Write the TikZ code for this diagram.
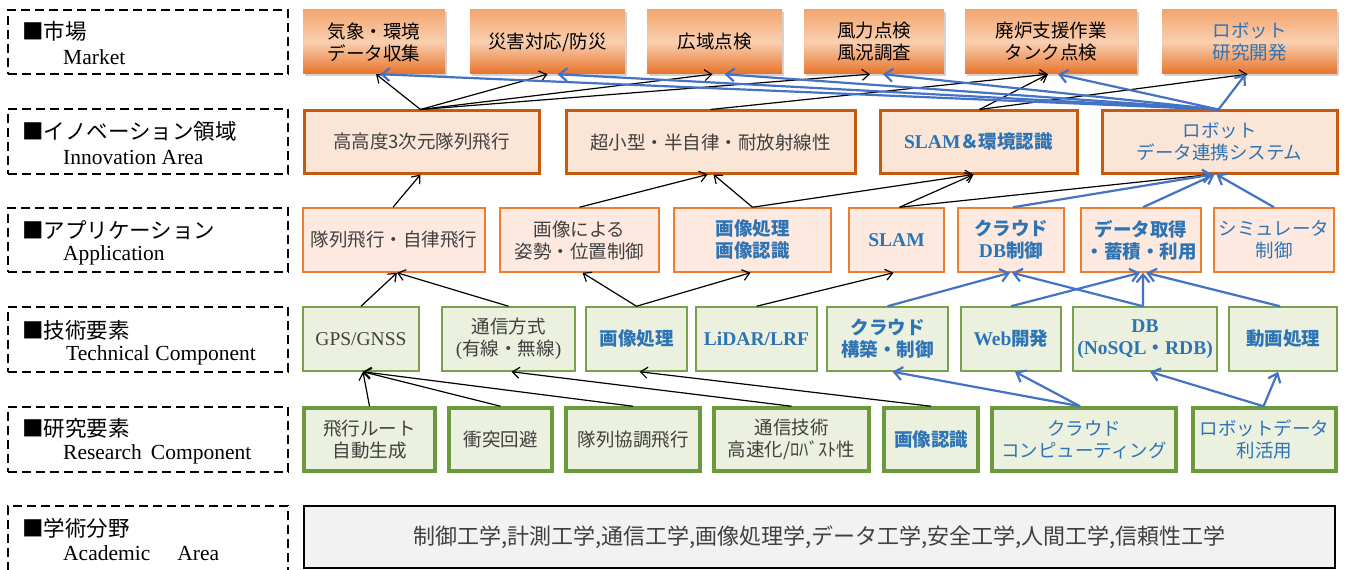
\documentclass[tikz,border=0pt]{standalone}
\usepackage{fontspec}
\setmainfont{Liberation Serif}
\newfontfamily\J{Noto Sans CJK JP}
\usetikzlibrary{arrows.meta,shadows}
\definecolor{mktTop}{HTML}{F4A66F}
\definecolor{mktMid}{HTML}{F9CFB0}
\definecolor{mktBot}{HTML}{E8732A}
\definecolor{innFill}{HTML}{FBE5D6}
\definecolor{innLine}{HTML}{C55A11}
\definecolor{appFill}{HTML}{FDE9DF}
\definecolor{appLine}{HTML}{ED7D31}
\definecolor{grnFill}{HTML}{EBF1DE}
\definecolor{tecLine}{HTML}{77A14B}
\definecolor{resLine}{HTML}{6B9A3E}
\definecolor{acaFill}{HTML}{F2F2F2}
\definecolor{txtBlue}{HTML}{2E74B5}
\definecolor{txtGray}{HTML}{404040}
\definecolor{lnBlue}{HTML}{4472C4}
\newcommand\EN{\rmfamily\fontsize{19.5bp}{22bp}\selectfont}
\newcommand\bx[7]{\node[#1, minimum width={(#4-#3)*1.00375pt}, minimum height={(#6-#5)*1.00375pt}] (#2) at ({(#3+#4)/2},{(#5+#6)/2}) {#7};}
\begin{document}
\begin{tikzpicture}[x=1bp,y=-1bp,
  base/.style={inner sep=0pt, align=center, font=\J\fontsize{18.5bp}{22bp}\selectfont},
  mkt/.style={base, top color=mktTop, bottom color=mktBot, middle color=mktMid, draw=none,
     drop shadow={shadow xshift=2bp, shadow yshift=-2bp, opacity=0.35}, text=black},
  inn/.style={base, fill=innFill, draw=innLine, line width=3bp, text=txtGray},
  app/.style={base, fill=appFill, draw=appLine, line width=1.5bp, text=txtGray},
  tec/.style={base, fill=grnFill, draw=tecLine, line width=1.5bp, text=txtGray},
  res/.style={base, fill=grnFill, draw=resLine, line width=3.5bp, text=txtGray},
  aca/.style={base, fill=acaFill, draw=black, line width=2.5bp, text=txtGray, font=\J\fontsize{22bp}{26bp}\selectfont},
  lab/.style={draw=black, line width=1.3bp, dash pattern=on 9bp off 5bp, inner sep=0pt},
  labj/.style={anchor=west, inner sep=0pt, font=\J\fontsize{21.5bp}{24bp}\selectfont},
  labe/.style={anchor=west, inner sep=0pt, font=\rmfamily\fontsize{21.5bp}{24bp}\selectfont},
  bl/.style={text=txtBlue},
  bb/.style={text=txtBlue, font=\J\bfseries\fontsize{18.5bp}{22bp}\selectfont},
  blk/.style={draw=black, line width=1.2bp, -{Straight Barb[length=7bp,width=11bp]}},
  blu/.style={draw=lnBlue, line width=2.2bp, -{Straight Barb[length=8bp,width=13bp]}}
]
\useasboundingbox (0,0) rectangle (1346,570);
\clip (0,0) rectangle (1346,570);

% ---- left labels ----
\bx{lab}{L1}{8}{288}{10}{74}{}
\bx{lab}{L2}{8}{288}{109}{174}{}
\bx{lab}{L3}{8}{288}{208}{272}{}
\bx{lab}{L4}{8}{288}{307}{372}{}
\bx{lab}{L5}{8}{288}{407}{472}{}
\bx{lab}{L6}{8}{288}{506}{590}{}
\node[labj] (L1a) at (22,31) {■市場};
\node[labe] (L1b) at (63,57) {Market};
\node[labj] (L2a) at (22,131) {■イノベーション領域};
\node[labe] (L2b) at (63,157) {Innovation Area};
\node[labj] (L3a) at (22,230) {■アプリケーション};
\node[labe] (L3b) at (63,255) {Application};
\node[labj] (L4a) at (22,330) {■技術要素};
\node[labe] (L4b) at (66,355) {Technical\hspace{6bp}Component};
\node[labj] (L5a) at (22,428) {■研究要素};
\node[labe] (L5b) at (63,454) {Research\hspace{9bp}Component};
\node[labj] (L6a) at (22,528) {■学術分野};
\node[labe] (L6b) at (63,553) {Academic\hspace{27bp}Area};

% ---- market ----
\bx{mkt}{M1}{303}{445}{10}{74}{気象・環境\\データ収集}
\bx{mkt}{M2}{470}{625}{10}{74}{災害対応/防災}
\bx{mkt}{M3}{647}{782}{10}{74}{広域点検}
\bx{mkt}{M4}{804}{944}{10}{74}{風力点検\\風況調査}
\bx{mkt}{M5}{965}{1137}{10}{74}{廃炉支援作業\\タンク点検}
\bx{mkt,bl}{M6}{1162}{1337}{10}{74}{ロボット\\研究開発}

% ---- innovation ----
\bx{inn}{I1}{304}{539}{111}{173}{高高度3次元隊列飛行}
\bx{inn}{I2}{566}{855}{111}{173}{超小型・半自律・耐放射線性}
\bx{inn,bb}{I3}{880}{1077}{111}{173}{{\EN SLAM}＆環境認識}
\bx{inn,bl}{I4}{1102}{1337}{111}{173}{ロボット\\データ連携システム}

% ---- application ----
\bx{app}{A1}{303}{485}{208}{272}{隊列飛行・自律飛行}
\bx{app}{A2}{500}{659}{208}{272}{画像による\\姿勢・位置制御}
\bx{app,bb}{A3}{674}{831}{208}{272}{画像処理\\画像認識}
\bx{app,bb}{A4}{849}{944}{208}{272}{{\EN SLAM}}
\bx{app,bb}{A5}{958}{1064}{208}{272}{クラウド\\{\EN DB}制御}
\bx{app,bb}{A6}{1081}{1201}{208}{272}{データ取得\\・蓄積・利用}
\bx{app,bl}{A7}{1214}{1334}{208}{272}{シミュレータ\\制御}

% ---- technical ----
\bx{tec}{T1}{303}{419}{307}{371}{{\EN GPS/GNSS}}
\bx{tec}{T2}{442}{575}{307}{371}{通信方式\\{\EN(}有線・無線{\EN)}}
\bx{tec,bb}{T3}{586}{687}{307}{371}{画像処理}
\bx{tec,bb}{T4}{696}{817}{307}{371}{{\EN LiDAR/LRF}}
\bx{tec,bb}{T5}{827}{948}{307}{371}{クラウド\\構築・制御}
\bx{tec,bb}{T6}{961}{1061}{307}{371}{{\EN Web}開発}
\bx{tec,bb}{T7}{1073}{1217}{307}{371}{{\EN DB}\\{\EN(NoSQL}・{\EN RDB)}}
\bx{tec,bb}{T8}{1229}{1337}{307}{371}{動画処理}

% ---- research ----
\bx{res}{R1}{304}{435}{408}{471}{飛行ルート\\自動生成}
\bx{res}{R2}{449}{552}{408}{471}{衝突回避}
\bx{res}{R3}{566}{700}{408}{471}{隊列協調飛行}
\bx{res}{R4}{714}{869}{408}{471}{通信技術\\高速化/ﾛﾊﾞｽﾄ性}
\bx{res,bb}{R5}{884}{978}{408}{471}{画像認識}
\bx{res,bl}{R6}{992}{1176}{408}{471}{クラウド\\コンピューティング}
\bx{res,bl}{R7}{1193}{1336}{408}{471}{ロボットデータ\\利活用}

% ---- academic ----
\bx{aca}{AC}{304}{1335}{506}{568}{制御工学,計測工学,通信工学,画像処理学,データ工学,安全工学,人間工学,信頼性工学}

% ---- innovation -> market ----
\draw[blk] ([xshift=-1bp]I1.north) -- ([xshift=2bp]M1.south);
\draw[blk] ([xshift=-1bp]I1.north) -- ([xshift=0bp]M2.south);
\draw[blk] ([xshift=-1bp]I1.north) -- ([xshift=-2bp]M3.south);
\draw[blk] ([xshift=-1bp]I1.north) -- ([xshift=-4bp]M4.south);
\draw[blk] (I2.north) -- ([xshift=-3bp]M5.south);
\draw[blk] ([xshift=1bp]I3.north) -- ([xshift=-3bp]M5.south);
\draw[blk] ([xshift=1bp]I3.north) -- ([xshift=-2bp]M6.south);
\foreach \m/\d in {M1/6,M2/10,M3/10,M4/9,M5/7,M6/-4}
  \draw[blu] ([xshift=-1bp]I4.north) -- ([xshift=\d bp]\m.south);

% ---- application -> innovation ----
\draw[blk] ([xshift=-1bp]A1.north) -- ([xshift=-1bp]I1.south);
\draw[blk] (A2.north) -- ([xshift=-3bp]I2.south);
\draw[blk] (A3.north) -- ([xshift=3bp]I2.south);
\draw[blk] (A3.north) -- ([xshift=-5bp]I3.south);
\draw[blk] ([xshift=3bp]A4.north) -- ([xshift=-5bp]I3.south);
\draw[blk] ([xshift=3bp]A4.north) -- ([xshift=-9bp]I4.south);
\draw[blu] ([xshift=2bp]A5.north) -- ([xshift=-7bp]I4.south);
\draw[blu] ([xshift=2bp]A6.north) -- ([xshift=-5bp]I4.south);
\draw[blu] (A7.north) -- ([xshift=-3bp]I4.south);

% ---- technical -> application ----
\draw[blk] (T1.north) -- ([xshift=3bp]A1.south);
\draw[blk] (T2.north) -- ([xshift=3bp]A1.south);
\draw[blk] (T3.north) -- ([xshift=3bp]A2.south);
\draw[blk] (T3.north) -- ([xshift=-2bp]A3.south);
\draw[blk] (T4.north) -- ([xshift=-3bp]A4.south);
\draw[blu] (T5.north) -- ([xshift=-1bp]A5.south);
\draw[blu] (T6.north) -- ([xshift=-1bp]A6.south);
\draw[blu] ([xshift=-2bp]T7.north) -- ([xshift=1bp]A5.south);
\draw[blu] ([xshift=-2bp]T7.north) -- ([xshift=2bp]A6.south);
\draw[blu] ([xshift=-3bp]T8.north) -- ([xshift=5bp]A6.south);

% ---- research -> technical ----
\draw[blk] (R1.north) -- ([xshift=2bp]T1.south);
\draw[blk] (R2.north) -- ([xshift=2bp]T1.south);
\draw[blk] (R3.north) -- ([xshift=2bp]T1.south);
\draw[blk] (R4.north) -- ([xshift=3bp]T2.south);
\draw[blk] (R5.north) -- ([xshift=3bp]T3.south);
\draw[blu] ([xshift=-4bp]R6.north) -- ([xshift=5bp]T5.south);
\draw[blu] ([xshift=-4bp]R6.north) -- ([xshift=4bp]T6.south);
\draw[blu] ([xshift=-1bp]R7.north) -- ([xshift=5bp]T7.south);
\draw[blu] ([xshift=-1bp]R7.north) -- ([xshift=-5bp]T8.south);
\end{tikzpicture}
\end{document}
